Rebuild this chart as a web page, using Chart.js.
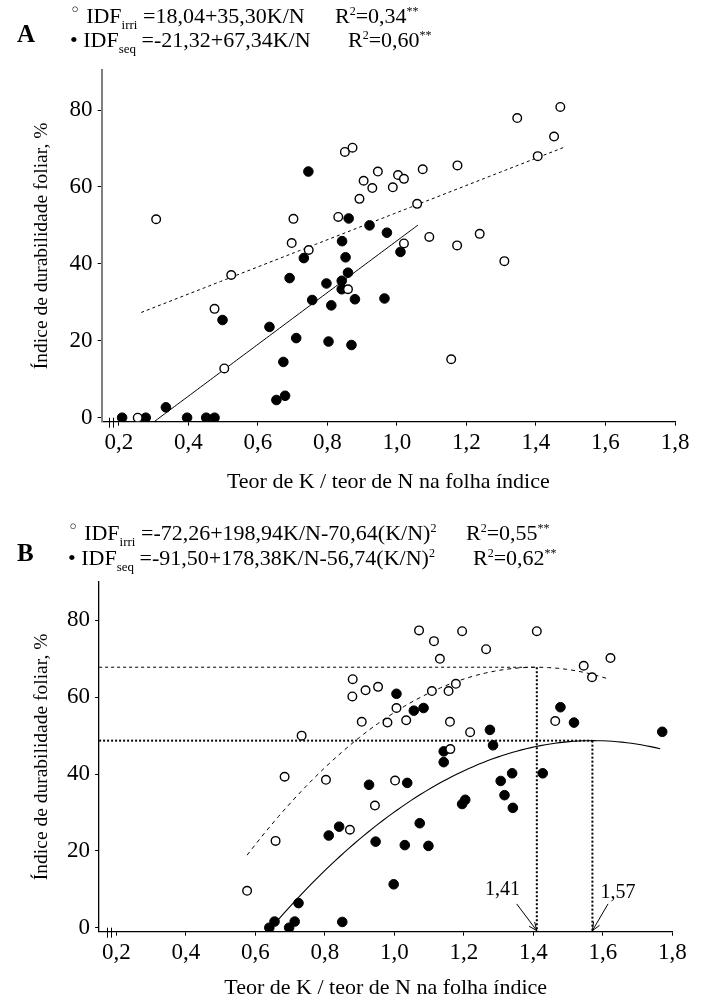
<!DOCTYPE html>
<html lang="pt">
<head>
<meta charset="utf-8">
<title>IDF x K/N</title>
<script src="https://cdn.jsdelivr.net/npm/chart.js@4.4.1/dist/chart.umd.min.js"></script>
<style>
  html, body { margin: 0; padding: 0; background: #fff; }
  #pagina { position: relative; width: 704px; height: 1005px; overflow: hidden;
            font-family: "Liberation Serif", "Times New Roman", serif; color: #000; }
  canvas { position: absolute; left: 0; }
  .linha { position: absolute; font-size: 22px; line-height: 22px; white-space: nowrap; }
  .letra { position: absolute; font-size: 25px; line-height: 25px; font-weight: bold; }
  .linha sub { font-size: 13px; line-height: 0; vertical-align: -6px; }
  .linha sup { font-size: 12px; line-height: 0; vertical-align: 8px; }
  .aberto { font-family: "DejaVu Sans", sans-serif; font-size: 18px; line-height: 0; vertical-align: 7px; }
</style>
</head>
<body>
<div id="pagina">
  <canvas id="grafA" width="704" height="500" style="top:0"></canvas>
  <canvas id="grafB" width="704" height="505" style="top:500px"></canvas>

  <!-- cabeçalho painel A -->
  <div class="letra" style="left:17px; top:21px">A</div>
  <div class="linha" style="left:70px; top:5px"><span class="aberto">◦</span> IDF<sub>irri</sub> =18,04+35,30K/N</div>
  <div class="linha" style="left:335px; top:5px">R<sup>2</sup>=0,34<sup>**</sup></div>
  <div class="linha" style="left:70px; top:29px">• IDF<sub>seq</sub> =-21,32+67,34K/N</div>
  <div class="linha" style="left:348px; top:29px">R<sup>2</sup>=0,60<sup>**</sup></div>

  <!-- cabeçalho painel B -->
  <div class="letra" style="left:17px; top:540px">B</div>
  <div class="linha" style="left:68px; top:522px"><span class="aberto">◦</span> IDF<sub>irri</sub> =-72,26+198,94K/N-70,64(K/N)<sup>2</sup></div>
  <div class="linha" style="left:466px; top:522px">R<sup>2</sup>=0,55<sup>**</sup></div>
  <div class="linha" style="left:68px; top:547px">• IDF<sub>seq</sub> =-91,50+178,38K/N-56,74(K/N)<sup>2</sup></div>
  <div class="linha" style="left:473px; top:547px">R<sup>2</sup>=0,62<sup>**</sup></div>
</div>

<script>
  const fonte = '"Liberation Serif", "Times New Roman", serif';
  Chart.defaults.font.family = fonte;
  Chart.defaults.color = '#000';

  // eixos
  const xTicks = [0.2, 0.4, 0.6, 0.8, 1.0, 1.2, 1.4, 1.6, 1.8];
  const yTicks = [0, 20, 40, 60, 80];
  const quebraEixo = [0.172, 0.184]; // marca "||" no eixo x

  // Painel A - irrigado (circulos abertos)
  const knIrriA = [0.307, 0.702, 0.697, 0.746, 0.831, 0.850, 0.872, 0.892, 0.904, 0.929, 0.945,
    0.988, 1.003, 1.020, 1.074, 1.174, 1.058, 1.346, 1.470, 1.452, 1.405, 1.093, 1.020, 1.173,
    1.238, 1.309, 1.156, 0.523, 0.475, 0.503, 0.859, 0.254];
  const idfIrriA = [51.6, 51.7, 45.4, 43.6, 52.2, 69.1, 70.2, 56.9, 61.6, 59.7, 64.0,
    59.9, 63.1, 62.1, 64.6, 65.6, 55.6, 77.9, 80.8, 73.1, 68.0, 47.0, 45.3, 44.8,
    47.8, 40.7, 15.2, 37.1, 28.3, 12.8, 33.4, 0];
  // Painel A - sequeiro (circulos cheios)
  const knSeqA = [0.745, 0.861, 0.921, 0.971, 0.842, 0.852, 0.732, 1.010, 0.691, 0.859, 0.797,
    0.841, 0.841, 0.756, 0.811, 0.879, 0.964, 0.498, 0.633, 0.710, 0.803, 0.869, 0.673, 0.653,
    0.678, 0.335, 0.209, 0.277, 0.396, 0.451, 0.475];
  const idfSeqA = [64.0, 51.8, 50.0, 48.1, 45.9, 41.7, 41.5, 43.1, 36.3, 37.7, 34.9,
    35.6, 33.4, 30.6, 29.2, 30.8, 31.0, 25.4, 23.6, 20.7, 19.8, 18.9, 14.5, 4.6,
    5.7, 2.7, 0, 0, 0, 0, 0];

  // Painel B - irrigado
  const knIrriB = [0.880, 0.879, 0.917, 0.953, 0.906, 0.980, 1.006, 0.733, 1.071, 1.195, 1.410,
    1.114, 1.264, 1.131, 1.622, 1.545, 1.569, 1.177, 1.156, 1.108, 1.034, 1.160, 1.218, 1.463,
    1.161, 1.002, 0.944, 0.684, 0.803, 0.658, 0.872, 0.576];
  const idfIrriB = [64.7, 60.2, 61.8, 62.7, 53.6, 53.4, 57.2, 50.0, 77.4, 77.2, 77.2,
    74.6, 72.5, 70.0, 70.2, 68.2, 65.2, 63.5, 61.6, 61.6, 54.0, 53.6, 50.9, 53.8,
    46.5, 38.3, 31.8, 39.3, 38.5, 22.6, 25.5, 9.6];
  // Painel B - sequeiro
  const knSeqB = [1.006, 1.056, 1.084, 1.478, 1.517, 1.771, 1.275, 1.284, 1.142, 1.142, 0.927,
    1.037, 1.306, 1.339, 1.427, 1.317, 1.341, 1.195, 1.204, 1.073, 0.946, 1.030, 1.098, 0.998,
    0.841, 0.811, 0.724, 0.655, 0.713, 0.850, 0.640, 0.697];
  const idfSeqB = [60.9, 56.5, 57.2, 57.4, 53.4, 51.0, 51.5, 47.5, 45.9, 43.1, 37.2,
    37.7, 38.2, 40.2, 40.2, 34.5, 31.2, 32.2, 33.3, 27.2, 22.4, 21.5, 21.3, 11.3,
    26.3, 24.0, 6.4, 1.6, 1.6, 1.5, 0, 0];

  // coeficientes das equacoes (b0, b1, b2) e faixa de K/N de cada curva
  const coefIrriA = [18.04, 35.30, 0];
  const coefSeqA = [-21.32, 67.34, 0];
  const coefIrriB = [-72.26, 198.94, -70.64];
  const coefSeqB = [-91.50, 178.38, -56.74];
  const faixaIrriA = [0.264, 1.48];
  const faixaSeqA = [0.302, 1.06];
  const faixaIrriB = [0.576, 1.612];
  const faixaSeqB = [0.664, 1.765];

  // pontos de maximo (K/N, IDF)
  const otimoIrri = [1.41, 67.81];
  const otimoSeq = [1.57, 48.70];

  const xMin = 0.15, xMax = 1.8;

  function pontos(xs, ys) {
    return xs.map((v, i) => ({ x: v, y: ys[i] }));
  }

  function curva(coef, faixa) {
    const pts = [];
    const n = 80;
    for (let i = 0; i <= n; i++) {
      const x = faixa[0] + (faixa[1] - faixa[0]) * i / n;
      pts.push({ x: x, y: coef[0] + coef[1] * x + coef[2] * x * x });
    }
    return pts;
  }

  function abertos(dados) {
    return { data: dados, order: 0, pointRadius: 4.3, pointBorderWidth: 1.4,
      pointBackgroundColor: '#fff', pointBorderColor: '#000', showLine: false };
  }
  function cheios(dados) {
    return { data: dados, order: 1, pointRadius: 4.8, pointBorderWidth: 1,
      pointBackgroundColor: '#000', pointBorderColor: '#000', showLine: false };
  }
  function linha(dados, tracejado, largura) {
    return { data: dados, order: 2, showLine: true, pointRadius: 0, borderColor: '#000',
      borderWidth: largura || 1, borderDash: tracejado || [], tension: 0, fill: false };
  }

  // marca de quebra no eixo, setas e rotulos
  const pluginMarcas = {
    id: 'marcas',
    afterDraw(chart, args, opts) {
      const ctx = chart.ctx;
      const sx = chart.scales.x, sy = chart.scales.y;
      const base = chart.chartArea.bottom;
      ctx.save();
      ctx.strokeStyle = '#000';
      ctx.lineWidth = 1;
      quebraEixo.forEach(v => {
        const px = Math.round(sx.getPixelForValue(v)) + 0.5;
        ctx.beginPath();
        ctx.moveTo(px, base - 4);
        ctx.lineTo(px, base + 6);
        ctx.stroke();
      });
      (opts.setas || []).forEach(s => {
        const x0 = sx.getPixelForValue(s.xCauda), y0 = sy.getPixelForValue(s.yCauda);
        const x1 = sx.getPixelForValue(s.xPonta), y1 = base - 1;
        ctx.beginPath();
        ctx.moveTo(x0, y0);
        ctx.lineTo(x1, y1);
        ctx.stroke();
        const ang = Math.atan2(y1 - y0, x1 - x0);
        ctx.beginPath();
        ctx.moveTo(x1 - 9 * Math.cos(ang - 0.4), y1 - 9 * Math.sin(ang - 0.4));
        ctx.lineTo(x1, y1);
        ctx.lineTo(x1 - 9 * Math.cos(ang + 0.4), y1 - 9 * Math.sin(ang + 0.4));
        ctx.stroke();
        ctx.font = '20px ' + fonte;
        ctx.fillStyle = '#000';
        ctx.textAlign = 'center';
        ctx.textBaseline = 'middle';
        ctx.fillText(s.xPonta.toFixed(2).replace('.', ','), sx.getPixelForValue(s.xTexto), sy.getPixelForValue(s.yTexto));
      });
      ctx.restore();
    }
  };

  function montarGrafico(idCanvas, p) {
    return new Chart(document.getElementById(idCanvas), {
      type: 'scatter',
      data: { datasets: p.datasets },
      options: {
        responsive: false,
        animation: false,
        devicePixelRatio: 1,
        layout: { padding: { top: p.topo, right: p.direita, left: 0, bottom: 0 } },
        plugins: {
          legend: { display: false },
          tooltip: { enabled: false },
          marcas: { setas: p.setas }
        },
        scales: {
          x: {
            type: 'linear', min: xMin, max: xMax,
            afterBuildTicks: ax => { ax.ticks = xTicks.map(v => ({ value: v })); },
            afterFit: ax => { ax.height = p.altX; },
            ticks: { callback: v => v.toFixed(1).replace('.', ','), font: { size: 23 }, color: '#000',
              padding: 3, maxRotation: 0, autoSkip: false },
            grid: { drawOnChartArea: false, drawTicks: true, tickLength: 4, color: '#000' },
            border: { display: true, color: '#000', width: 1.3 },
            title: { display: true, text: 'Teor de K / teor de N na folha índice',
              font: { size: 22 }, color: '#000', padding: { top: 0, bottom: p.padTituloX } }
          },
          y: {
            type: 'linear', min: p.yMin, max: p.yMax,
            afterBuildTicks: ax => { ax.ticks = yTicks.map(v => ({ value: v })); },
            afterFit: ax => { ax.width = p.largY; },
            ticks: { font: { size: 23 }, color: '#000', padding: 5 },
            grid: { drawOnChartArea: false, drawTicks: true, tickLength: 4, color: '#000' },
            border: { display: true, color: p.corY, width: p.larguraY },
            title: { display: true, text: 'Índice de durabilidade foliar, %',
              font: { size: 19.5 }, color: '#000', padding: { top: 30, bottom: 0 } }
          }
        }
      },
      plugins: [pluginMarcas]
    });
  }

  montarGrafico('grafA', {
    topo: 70, direita: 29, largY: 101.6, altX: 78.3, padTituloX: 5,
    yMin: -1.04, yMax: 90.4, corY: '#808080', larguraY: 2,
    datasets: [
      abertos(pontos(knIrriA, idfIrriA)),
      cheios(pontos(knSeqA, idfSeqA)),
      linha(curva(coefIrriA, faixaIrriA), [3, 3], 1),
      linha(curva(coefSeqA, faixaSeqA), [], 1)
    ]
  });

  montarGrafico('grafB', {
    topo: 82, direita: 31.7, largY: 99.1, altX: 73.3, padTituloX: 4,
    yMin: -1.04, yMax: 90.0, corY: '#000', larguraY: 1.3,
    datasets: [
      abertos(pontos(knIrriB, idfIrriB)),
      cheios(pontos(knSeqB, idfSeqB)),
      linha(curva(coefIrriB, faixaIrriB), [4, 4], 1),
      linha(curva(coefSeqB, faixaSeqB), [], 1.1),
      linha([{ x: xMin, y: otimoIrri[1] }, { x: otimoIrri[0], y: otimoIrri[1] }], [3, 3], 1),
      linha([{ x: otimoIrri[0], y: otimoIrri[1] }, { x: otimoIrri[0], y: -1 }], [2, 2], 2),
      linha([{ x: xMin, y: otimoSeq[1] }, { x: otimoSeq[0], y: otimoSeq[1] }], [2, 2], 2),
      linha([{ x: otimoSeq[0], y: otimoSeq[1] }, { x: otimoSeq[0], y: -1 }], [2, 2], 2)
    ],
    setas: [
      { xPonta: otimoIrri[0], xCauda: 1.352, yCauda: 6.2, xTexto: 1.311, yTexto: 9.8 },
      { xPonta: otimoSeq[0], xCauda: 1.615, yCauda: 6.2, xTexto: 1.644, yTexto: 9.0 }
    ]
  });
</script>
</body>
</html>
